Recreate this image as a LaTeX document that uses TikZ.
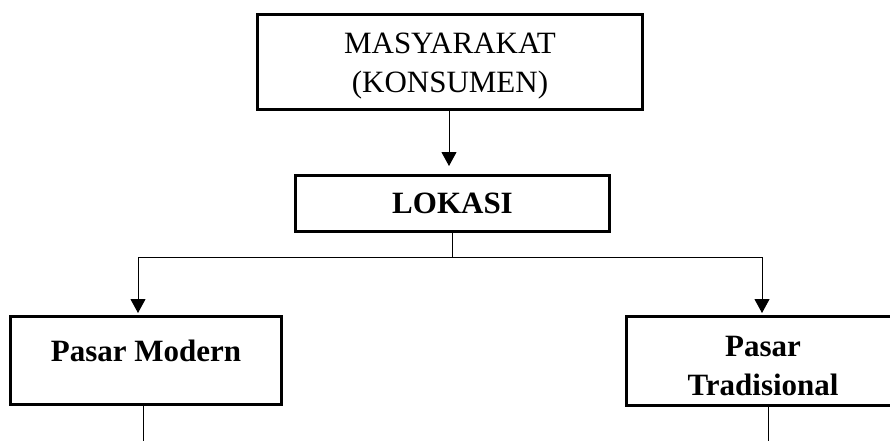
\documentclass[tikz,border=0pt]{standalone}
\usepackage{fontspec}
\setmainfont{Liberation Serif}
\usetikzlibrary{arrows.meta}
\tikzstyle{plain-box}=[draw,rectangle,line width=3pt,fill=white,align=center,font=\fontsize{31}{39}\selectfont]
\tikzstyle{bold-box}=[plain-box,font=\fontsize{31}{39}\selectfont\bfseries]
\tikzstyle{arr}=[line width=1pt,-{Triangle[length=14pt,width=15pt]}]
\tikzstyle{link}=[line width=1pt]

\begin{document}
\begin{tikzpicture}[x=1pt,y=-1pt]
        \useasboundingbox (0,0) rectangle (890,441);
        \begin{scope}
            \node[plain-box,minimum width=385pt,minimum height=95pt] at (450,62) (masy) {\rule{0pt}{29pt}MASYARAKAT\\(KONSUMEN)};
            \node[bold-box,minimum width=314pt,minimum height=56pt] at (452.5,203.5) (lokasi) {LOKASI};
            \node[bold-box,minimum width=271pt,minimum height=88pt,text height=19pt,text depth=17pt] at (146,360.5) (modern) {Pasar Modern};
            \node[bold-box,minimum width=273pt,minimum height=89pt] at (763,361) (trad) {\rule{0pt}{30pt}Pasar\\Tradisional};

            \coordinate (split) at (452,257);
            \coordinate (jl) at (138,257);
            \coordinate (jr) at (762,257);
            \coordinate (ml) at (143,441);
            \coordinate (mr) at (768,441);

            \draw[arr,shorten >=8pt] (masy.south -| 449,0) -- (449,0 |- lokasi.north);
            \draw[link] (lokasi.south -| split) -- (split);
            \draw[link] (jl) -- (jr);
            \draw[arr,shorten >=2pt] (jl) -- (jl |- modern.north);
            \draw[arr,shorten >=2pt] (jr) -- (jr |- trad.north);
            \draw[link] (ml |- modern.south) -- (ml);
            \draw[link] (mr |- trad.south) -- (mr);
        \end{scope}
\end{tikzpicture}
\end{document}
